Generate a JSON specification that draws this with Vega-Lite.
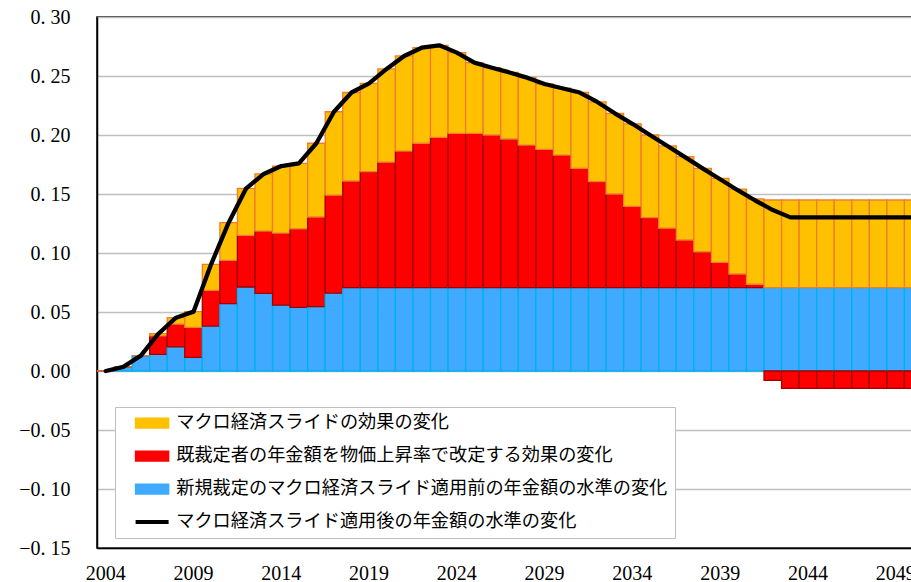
{
  "$schema": "https://vega.github.io/schema/vega-lite/v6.json",
  "width": 825,
  "height": 531,
  "autosize": {"type": "none"},
  "padding": {"left": 97, "top": 17, "right": 0, "bottom": 34},
  "config": {"view": {"stroke": "#000000", "strokeWidth": 1.5}, "font": "Liberation Serif"},
  "datasets": {
    "wide": [
      {"year": 2004, "b": 0, "r": 0, "o": 0},
      {"year": 2005, "b": 0.0035, "r": 0, "o": 0},
      {"year": 2006, "b": 0.013, "r": 0, "o": 0},
      {"year": 2007, "b": 0.0141, "r": 0.0156, "o": 0.0019},
      {"year": 2008, "b": 0.0205, "r": 0.0192, "o": 0.0055},
      {"year": 2009, "b": 0.0116, "r": 0.0254, "o": 0.0133},
      {"year": 2010, "b": 0.0381, "r": 0.0303, "o": 0.022},
      {"year": 2011, "b": 0.0571, "r": 0.0367, "o": 0.0319},
      {"year": 2012, "b": 0.0712, "r": 0.0438, "o": 0.0398},
      {"year": 2013, "b": 0.0657, "r": 0.0529, "o": 0.0484},
      {"year": 2014, "b": 0.0559, "r": 0.061, "o": 0.0568},
      {"year": 2015, "b": 0.054, "r": 0.0665, "o": 0.0555},
      {"year": 2016, "b": 0.0545, "r": 0.076, "o": 0.0625},
      {"year": 2017, "b": 0.066, "r": 0.083, "o": 0.0707},
      {"year": 2018, "b": 0.0706, "r": 0.0904, "o": 0.075},
      {"year": 2019, "b": 0.0706, "r": 0.0984, "o": 0.0748},
      {"year": 2020, "b": 0.0706, "r": 0.1064, "o": 0.079},
      {"year": 2021, "b": 0.0706, "r": 0.1158, "o": 0.0806},
      {"year": 2022, "b": 0.0706, "r": 0.1224, "o": 0.081},
      {"year": 2023, "b": 0.0706, "r": 0.1274, "o": 0.078},
      {"year": 2024, "b": 0.0706, "r": 0.1308, "o": 0.0684},
      {"year": 2025, "b": 0.0706, "r": 0.1308, "o": 0.0599},
      {"year": 2026, "b": 0.0706, "r": 0.1294, "o": 0.057},
      {"year": 2027, "b": 0.0706, "r": 0.126, "o": 0.0564},
      {"year": 2028, "b": 0.0706, "r": 0.1209, "o": 0.0571},
      {"year": 2029, "b": 0.0706, "r": 0.1173, "o": 0.0553},
      {"year": 2030, "b": 0.0706, "r": 0.1124, "o": 0.0566},
      {"year": 2031, "b": 0.0706, "r": 0.1011, "o": 0.0643},
      {"year": 2032, "b": 0.0706, "r": 0.0899, "o": 0.0675},
      {"year": 2033, "b": 0.0706, "r": 0.0794, "o": 0.0684},
      {"year": 2034, "b": 0.0706, "r": 0.0689, "o": 0.07},
      {"year": 2035, "b": 0.0706, "r": 0.0594, "o": 0.07},
      {"year": 2036, "b": 0.0706, "r": 0.0504, "o": 0.0697},
      {"year": 2037, "b": 0.0706, "r": 0.0404, "o": 0.0706},
      {"year": 2038, "b": 0.0706, "r": 0.0304, "o": 0.0707},
      {"year": 2039, "b": 0.0706, "r": 0.0215, "o": 0.0712},
      {"year": 2040, "b": 0.0706, "r": 0.0116, "o": 0.072},
      {"year": 2041, "b": 0.0706, "r": 0.0029, "o": 0.0723},
      {"year": 2042, "b": 0.0706, "r": -0.0079, "o": 0.0743},
      {"year": 2043, "b": 0.0706, "r": -0.0147, "o": 0.0743},
      {"year": 2044, "b": 0.0706, "r": -0.0147, "o": 0.0743},
      {"year": 2045, "b": 0.0706, "r": -0.0147, "o": 0.0743},
      {"year": 2046, "b": 0.0706, "r": -0.0147, "o": 0.0743},
      {"year": 2047, "b": 0.0706, "r": -0.0147, "o": 0.0743},
      {"year": 2048, "b": 0.0706, "r": -0.0147, "o": 0.0743},
      {"year": 2049, "b": 0.0706, "r": -0.0147, "o": 0.0743},
      {"year": 2050, "b": 0.0706, "r": -0.0147, "o": 0.0743}
    ],
    "line": [
      {"year": 2004, "total": 0},
      {"year": 2005, "total": 0.0035},
      {"year": 2006, "total": 0.013},
      {"year": 2007, "total": 0.0316},
      {"year": 2008, "total": 0.0452},
      {"year": 2009, "total": 0.0503},
      {"year": 2010, "total": 0.0904},
      {"year": 2011, "total": 0.1257},
      {"year": 2012, "total": 0.1548},
      {"year": 2013, "total": 0.167},
      {"year": 2014, "total": 0.1737},
      {"year": 2015, "total": 0.176},
      {"year": 2016, "total": 0.193},
      {"year": 2017, "total": 0.2197},
      {"year": 2018, "total": 0.236},
      {"year": 2019, "total": 0.2438},
      {"year": 2020, "total": 0.256},
      {"year": 2021, "total": 0.267},
      {"year": 2022, "total": 0.274},
      {"year": 2023, "total": 0.276},
      {"year": 2024, "total": 0.2698},
      {"year": 2025, "total": 0.2613},
      {"year": 2026, "total": 0.257},
      {"year": 2027, "total": 0.253},
      {"year": 2028, "total": 0.2486},
      {"year": 2029, "total": 0.2432},
      {"year": 2030, "total": 0.2396},
      {"year": 2031, "total": 0.236},
      {"year": 2032, "total": 0.228},
      {"year": 2033, "total": 0.2184},
      {"year": 2034, "total": 0.2095},
      {"year": 2035, "total": 0.2},
      {"year": 2036, "total": 0.1907},
      {"year": 2037, "total": 0.1812},
      {"year": 2038, "total": 0.1717},
      {"year": 2039, "total": 0.1625},
      {"year": 2040, "total": 0.1532},
      {"year": 2041, "total": 0.1445},
      {"year": 2042, "total": 0.1364},
      {"year": 2043, "total": 0.1302},
      {"year": 2044, "total": 0.1302},
      {"year": 2045, "total": 0.1302},
      {"year": 2046, "total": 0.1302},
      {"year": 2047, "total": 0.1302},
      {"year": 2048, "total": 0.1302},
      {"year": 2049, "total": 0.1302},
      {"year": 2050, "total": 0.1302}
    ]
  },
  "layer": [
    {
      "data": {"name": "wide"},
      "transform": [
        {"fold": ["b", "r", "o"], "as": ["key", "value"]},
        {"lookup": "key", "from": {"data": {"values": [
          {"key": "b", "series": "新規裁定のマクロ経済スライド適用前の年金額の水準の変化", "ord": 1},
          {"key": "r", "series": "既裁定者の年金額を物価上昇率で改定する効果の変化", "ord": 2},
          {"key": "o", "series": "マクロ経済スライドの効果の変化", "ord": 3}
        ]}, "key": "key", "fields": ["series", "ord"]}}
      ],
      "mark": {"type": "bar", "strokeWidth": 1.3},
      "encoding": {
        "x": {
          "field": "year", "type": "ordinal",
          "scale": {"paddingInner": 0, "paddingOuter": 0},
          "axis": {
            "values": [2004, 2009, 2014, 2019, 2024, 2029, 2034, 2039, 2044, 2049],
            "title": null, "ticks": false, "labelAngle": 0, "labelPadding": 15,
            "labelFont": "Liberation Serif", "labelFontSize": 20, "labelColor": "#000000",
            "domainColor": "#000000", "domainWidth": 1.5, "grid": false,
            "labelFlush": false, "labelOverlap": false
          }
        },
        "y": {
          "field": "value", "type": "quantitative", "stack": "zero",
          "scale": {"domain": [-0.15, 0.3], "nice": false, "zero": false},
          "axis": {
            "values": [-0.15, -0.1, -0.05, 0, 0.05, 0.1, 0.15, 0.2, 0.25, 0.3],
            "title": null, "ticks": false, "labelPadding": 27,
            "labelFont": "Liberation Serif", "labelFontSize": 20, "labelColor": "#000000",
            "domainColor": "#000000", "domainWidth": 1.5,
            "gridColor": "#BFBFBF", "gridWidth": 1.3,
            "labelFlush": false, "labelOverlap": false,
            "labelExpr": "(datum.value < -0.0001 ? '−' : '') + replace(format(abs(datum.value), '.2f'), '.', '. ')"
          }
        },
        "color": {
          "field": "series", "type": "nominal",
          "scale": {
            "domain": ["マクロ経済スライドの効果の変化", "既裁定者の年金額を物価上昇率で改定する効果の変化", "新規裁定のマクロ経済スライド適用前の年金額の水準の変化", "マクロ経済スライド適用後の年金額の水準の変化"],
            "range": ["#FFC000", "#FF0000", "#3FAAFF", "#000000"]
          },
          "legend": {
            "orient": "none", "legendX": 18, "legendY": 390, "title": null,
            "labelFont": "Noto Sans CJK JP", "labelFontSize": 18.2, "labelColor": "#000000", "labelLimit": 800,
            "padding": 7, "rowPadding": 14, "symbolOffset": 21, "labelOffset": 15,
            "strokeColor": "#BFBFBF", "fillColor": "#FFFFFF", "cornerRadius": 0,
            "symbolSize": 1089, "symbolStrokeWidth": 1.5,
            "encode": {
              "symbols": {
                "update": {
                  "shape": {"signal": "datum.value === 'マクロ経済スライド適用後の年金額の水準の変化' ? 'stroke' : 'M-1,-0.3H1V0.3H-1Z'"},
                  "fill": {"signal": "datum.value === 'マクロ経済スライドの効果の変化' ? '#FFC000' : datum.value === '既裁定者の年金額を物価上昇率で改定する効果の変化' ? '#FF0000' : datum.value === '新規裁定のマクロ経済スライド適用前の年金額の水準の変化' ? '#3FAAFF' : 'transparent'"},
                  "stroke": {"signal": "datum.value === 'マクロ経済スライドの効果の変化' ? '#ED7D31' : datum.value === '既裁定者の年金額を物価上昇率で改定する効果の変化' ? '#A00000' : datum.value === '新規裁定のマクロ経済スライド適用前の年金額の水準の変化' ? '#00B0F0' : '#000000'"},
                  "strokeWidth": {"signal": "datum.value === 'マクロ経済スライド適用後の年金額の水準の変化' ? 4 : 1.5"},
                  "opacity": {"value": 1}
                }
              }
            }
          }
        },
        "stroke": {
          "field": "series", "type": "nominal",
          "scale": {
            "domain": ["マクロ経済スライドの効果の変化", "既裁定者の年金額を物価上昇率で改定する効果の変化", "新規裁定のマクロ経済スライド適用前の年金額の水準の変化"],
            "range": ["#ED7D31", "#A00000", "#00B0F0"]
          },
          "legend": null
        },
        "order": {"field": "ord", "type": "quantitative"}
      }
    },
    {
      "data": {"name": "line"},
      "mark": {"type": "line", "strokeWidth": 4.3, "strokeJoin": "round", "strokeCap": "round"},
      "encoding": {
        "x": {"field": "year", "type": "ordinal"},
        "y": {"field": "total", "type": "quantitative"},
        "color": {"datum": "マクロ経済スライド適用後の年金額の水準の変化"}
      }
    }
  ]
}
